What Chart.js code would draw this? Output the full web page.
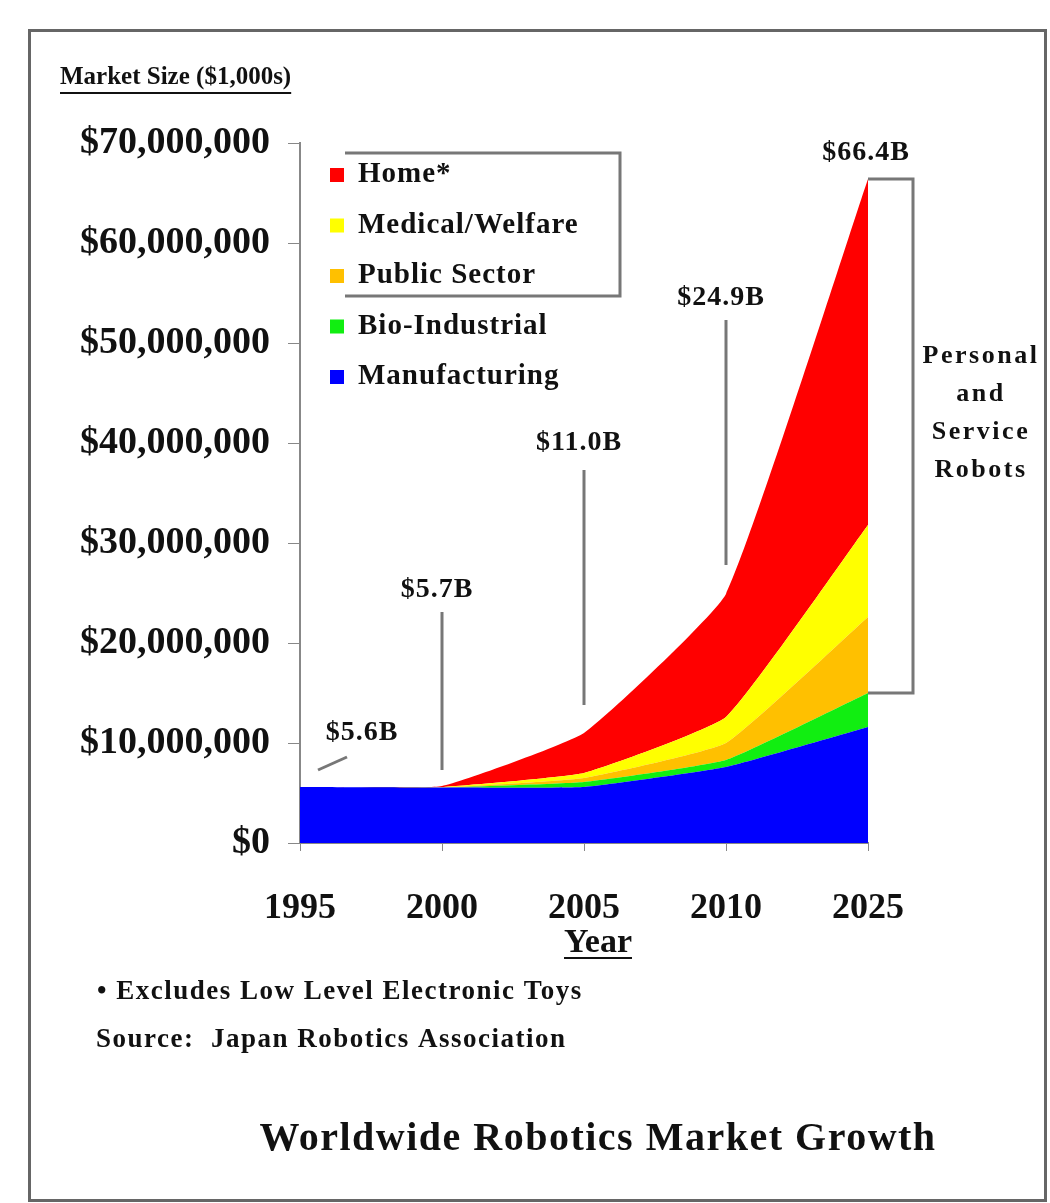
<!DOCTYPE html>
<html>
<head>
<meta charset="utf-8">
<script src="https://cdn.jsdelivr.net/npm/chart.js@4/dist/chart.umd.min.js"></script>
<style>
  html, body { margin: 0; padding: 0; background: #fff; }
  #wrap { width: 1050px; height: 1203px; position: relative; }
</style>
</head>
<body>
<div id="wrap"><canvas id="c" width="1050" height="1203"></canvas></div>
<script>
// ---- Data (values in $1,000s) ----
const years = ['1995', '2000', '2005', '2010', '2025'];
const manufacturing = [5600000, 5550000, 5600000, 7600000, 11600000];
const bioIndustrial = [0, 0, 500000, 700000, 3400000];
const publicSector = [0, 0, 400000, 1700000, 7600000];
const medicalWelfare = [0, 50000, 500000, 2600000, 9200000];
const home = [0, 100000, 4000000, 12300000, 34600000];
const seriesNames = ['Manufacturing', 'Bio-Industrial', 'Public Sector', 'Medical/Welfare', 'Home*'];
const totalLabels = ['$5.6B', '$5.7B', '$11.0B', '$24.9B', '$66.4B'];
const yTickMax = 70000000;
const yTickStep = 10000000;

const colors = ['#0000ff', '#11ee11', '#ffc000', '#ffff00', '#ff0000'];
const seriesValues = [manufacturing, bioIndustrial, publicSector, medicalWelfare, home];

const FONT = '"Liberation Serif", "DejaVu Serif", serif';

const datasets = seriesValues.map((vals, i) => ({
  label: seriesNames[i],
  data: vals,
  backgroundColor: colors[i],
  borderColor: colors[i],
  borderWidth: 0,
  pointRadius: 0,
  tension: 0.12,
  fill: i === 0 ? 'origin' : '-1'
}));

function underlineText(ctx, text, x, y, align) {
  ctx.textAlign = align;
  ctx.fillText(text, x, y);
  const w = ctx.measureText(text).width;
  let x0 = align === 'center' ? x - w / 2 : (align === 'right' ? x - w : x);
  ctx.fillRect(x0, y + 14, w, 2);
}

const decor = {
  id: 'decor',
  afterDraw(chart) {
    const ctx = chart.ctx;
    const xs = chart.scales.x, ys = chart.scales.y;
    const X = i => xs.getPixelForValue(i);
    const Y = v => ys.getPixelForValue(v);
    ctx.save();
    // outer frame
    ctx.strokeStyle = '#666';
    ctx.lineWidth = 3;
    ctx.strokeRect(29.5, 30.5, 1016, 1170);

    ctx.fillStyle = '#111';
    ctx.textBaseline = 'middle';
    // axis title top
    ctx.font = 'bold 25px ' + FONT;
    underlineText(ctx, 'Market Size ($1,000s)', 60, 78, 'left');
    // Year
    ctx.font = 'bold 34px ' + FONT;
    underlineText(ctx, 'Year', 598, 943, 'center');
    // footnotes
    ctx.font = 'bold 27px ' + FONT;
    ctx.letterSpacing = '1.5px';
    ctx.textAlign = 'left';
    ctx.fillText('\u2022 Excludes Low Level Electronic Toys', 97, 992);
    ctx.fillText('Source:  Japan Robotics Association', 96, 1040);
    // title
    ctx.font = 'bold 40px ' + FONT;
    ctx.letterSpacing = '1.5px';
    ctx.textAlign = 'center';
    ctx.fillText('Worldwide Robotics Market Growth', 598, 1140);

    // legend (top to bottom: reversed dataset order)
    const ds = chart.data.datasets.slice().reverse();
    ctx.font = 'bold 29px ' + FONT;
    ctx.letterSpacing = '1px';
    ctx.textAlign = 'left';
    ds.forEach((d, k) => {
      const yy = 175 + k * 50.5;
      ctx.fillStyle = d.backgroundColor;
      ctx.fillRect(330, yy - 7, 14, 14);
      ctx.fillStyle = '#111';
      ctx.fillText(d.label, 358, yy);
    });
    // partial legend frame
    ctx.strokeStyle = '#777';
    ctx.lineWidth = 3;
    ctx.beginPath();
    ctx.moveTo(345, 153); ctx.lineTo(620, 153); ctx.lineTo(620, 296); ctx.lineTo(345, 296);
    ctx.stroke();

    // callouts
    ctx.strokeStyle = '#777';
    ctx.lineWidth = 3;
    ctx.font = 'bold 28px ' + FONT;
    ctx.letterSpacing = '1px';
    ctx.fillStyle = '#111';
    ctx.textAlign = 'center';
    // 1995
    ctx.beginPath();
    ctx.moveTo(X(0) + 18, Y(7300000)); ctx.lineTo(X(0) + 47, Y(8600000)); ctx.stroke();
    ctx.fillText(totalLabels[0], X(0) + 62, Y(11000000));
    // 2000, 2005, 2010 vertical leaders
    const leaders = [[1, 7300000, 23100000, 25300000], [2, 13800000, 37300000, 40000000], [3, 27800000, 52300000, 54500000]];
    leaders.forEach(([i, lo, hi, lab]) => {
      ctx.beginPath();
      ctx.moveTo(X(i), Y(lo)); ctx.lineTo(X(i), Y(hi)); ctx.stroke();
      ctx.fillText(totalLabels[i], X(i) - 5, Y(lab));
    });
    ctx.fillText(totalLabels[4], X(4) - 2, Y(69000000));

    // right bracket for personal & service robots
    ctx.beginPath();
    ctx.moveTo(X(4), Y(66400000)); ctx.lineTo(913, Y(66400000));
    ctx.lineTo(913, Y(15000000)); ctx.lineTo(X(4), Y(15000000));
    ctx.stroke();
    ctx.font = 'bold 26px ' + FONT;
    ctx.letterSpacing = '2.5px';
    ['Personal', 'and', 'Service', 'Robots'].forEach((t, k) => {
      ctx.fillText(t, 981, 356 + k * 38);
    });
    ctx.restore();
  }
};

new Chart(document.getElementById('c'), {
  type: 'line',
  data: { labels: years, datasets },
  options: {
    responsive: false,
    animation: false,
    layout: { padding: { left: 0, right: 182, top: 143, bottom: 260 } },
    plugins: { legend: { display: false }, tooltip: { enabled: false }, title: { display: false } },
    elements: { line: { borderWidth: 0 } },
    scales: {
      x: {
        offset: false,
        grid: { display: true, drawOnChartArea: false, drawTicks: true, tickLength: 8, color: '#888' },
        border: { display: true, color: '#888', width: 2 },
        ticks: { font: { family: FONT, size: 36, weight: 'bold' }, color: '#111', padding: 36, maxRotation: 0 },
        afterFit(s) { s.height = 100; }
      },
      y: {
        stacked: true,
        min: 0,
        max: yTickMax,
        grid: { display: true, drawOnChartArea: false, drawTicks: true, tickLength: 12, color: '#888' },
        border: { display: true, color: '#888', width: 2 },
        ticks: {
          stepSize: yTickStep,
          font: { family: FONT, size: 38, weight: 'bold' },
          color: '#111',
          padding: 18,
          callback: v => '$' + Number(v).toLocaleString('en-US')
        },
        afterFit(s) { s.width = 300; }
      }
    }
  },
  plugins: [decor]
});
</script>
</body>
</html>
